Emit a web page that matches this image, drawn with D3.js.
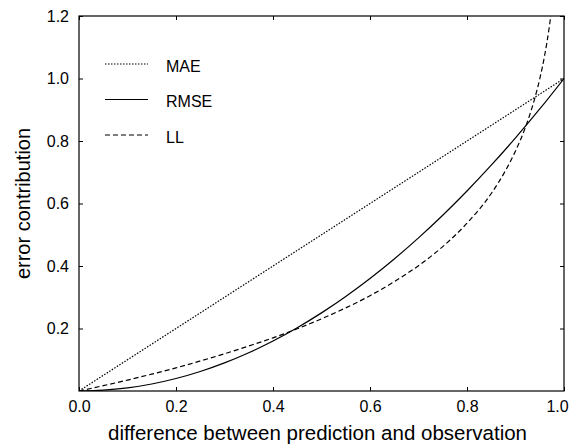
<!DOCTYPE html>
<html>

<head>
    <meta charset="UTF-8">
    <style>
        body { margin: 0; background: #fff; }
        text { font-family: "Liberation Sans", Arial, sans-serif; fill: #000; }
    </style>
</head>

<body>
    <svg id="chart"></svg>
    <script src="https://d3js.org/d3.v7.min.js"></script>
    <script>

        // values
        let xTicks = [0, 0.2, 0.4, 0.6, 0.8, 1.0];
        let yTicks = [0.2, 0.4, 0.6, 0.8, 1.0, 1.2];

        let maeX = [0, 1];
        let maeY = [0, 1];

        let rmseX = [0, 0.05, 0.1, 0.15, 0.2, 0.25, 0.3, 0.35, 0.4, 0.45, 0.5, 0.55, 0.6, 0.65, 0.7, 0.75, 0.8, 0.85, 0.9, 0.95, 1.0];
        let rmseY = [0, 0.0025, 0.01, 0.0225, 0.04, 0.0625, 0.09, 0.1225, 0.16, 0.2025, 0.25, 0.3025, 0.36, 0.4225, 0.49, 0.5625, 0.64, 0.7225, 0.81, 0.9025, 1.0];

        let llX = [0, 0.05, 0.1, 0.15, 0.2, 0.25, 0.3, 0.35, 0.4, 0.45, 0.5, 0.55, 0.6, 0.65, 0.7, 0.75, 0.8, 0.85, 0.88, 0.9, 0.92, 0.94, 0.95, 0.96, 0.97, 0.973];
        let llY = [0, 0.017, 0.035, 0.054, 0.074, 0.096, 0.119, 0.144, 0.170, 0.199, 0.231, 0.266, 0.305, 0.350, 0.401, 0.462, 0.537, 0.632, 0.707, 0.768, 0.842, 0.938, 0.999, 1.073, 1.169, 1.204];

        let seriesNames = ["MAE", "RMSE", "LL"];

        let width = 573, height = 445;
        let margin = { left: 79, right: 9, top: 16, bottom: 54 };

        let svg = d3.select("#chart")
            .attr("width", width)
            .attr("height", height);

        let x = d3.scaleLinear().domain([0, 1]).range([margin.left, width - margin.right]);
        let y = d3.scaleLinear().domain([0, 1.2]).range([height - margin.bottom, margin.top]);

        let fmt = d3.format(".1f");

        // clip
        svg.append("clipPath").attr("id", "clip")
            .append("rect")
            .attr("x", x(0)).attr("y", y(1.2))
            .attr("width", x(1) - x(0)).attr("height", y(0) - y(1.2));

        // axes, ticks inward, mirrored
        svg.append("g")
            .attr("transform", "translate(0," + y(0) + ")")
            .call(d3.axisBottom(x).tickValues(xTicks).tickFormat(fmt).tickSizeInner(-4).tickSizeOuter(0).tickPadding(10))
            .call(g => g.selectAll("text").attr("font-size", 16).attr("font-family", "Liberation Sans"))
            .call(g => g.selectAll("text").filter(d => d === 1).attr("dx", -7));

        svg.append("g")
            .attr("transform", "translate(" + x(0) + ",0)")
            .call(d3.axisLeft(y).tickValues(yTicks).tickFormat(fmt).tickSizeInner(-4).tickSizeOuter(0).tickPadding(10))
            .call(g => g.selectAll("text").attr("font-size", 16).attr("font-family", "Liberation Sans"));

        svg.append("g")
            .attr("transform", "translate(0," + y(1.2) + ")")
            .call(d3.axisTop(x).tickValues(xTicks).tickFormat("").tickSizeInner(-4).tickSizeOuter(0));

        svg.append("g")
            .attr("transform", "translate(" + x(1) + ",0)")
            .call(d3.axisRight(y).tickValues(yTicks).tickFormat("").tickSizeInner(-4).tickSizeOuter(0));

        svg.selectAll(".domain").remove();

        svg.append("rect")
            .attr("x", x(0)).attr("y", y(1.2))
            .attr("width", x(1) - x(0)).attr("height", y(0) - y(1.2))
            .attr("fill", "none").attr("stroke", "#000").attr("stroke-width", 1.2);

        // lines
        let line = d3.line().x(d => x(d[0])).y(d => y(d[1])).curve(d3.curveMonotoneX);

        let series = [
            { name: seriesNames[0], pts: d3.zip(maeX, maeY), dash: "1.5,1.5" },
            { name: seriesNames[1], pts: d3.zip(rmseX, rmseY), dash: null },
            { name: seriesNames[2], pts: d3.zip(llX, llY), dash: "5,3" }
        ];

        svg.append("g")
            .attr("clip-path", "url(#clip)")
            .selectAll("path")
            .data(series)
            .enter()
            .append("path")
            .attr("d", d => line(d.pts))
            .attr("fill", "none")
            .attr("stroke", "#000")
            .attr("stroke-width", 1.2)
            .attr("stroke-dasharray", d => d.dash);

        // legend
        let legend = svg.append("g")
            .selectAll("g")
            .data(series)
            .enter()
            .append("g")
            .attr("transform", (d, i) => "translate(105," + (64 + i * 35.5) + ")");

        legend.append("line")
            .attr("x1", 0).attr("x2", 43)
            .attr("stroke", "#000")
            .attr("stroke-width", 1.2)
            .attr("stroke-dasharray", d => d.dash);

        legend.append("text")
            .attr("x", 61).attr("y", 7.5)
            .attr("font-size", 16)
            .text(d => d.name);

        // axis titles
        svg.append("text")
            .attr("x", (x(0) + x(1)) / 2 - 4)
            .attr("y", 440)
            .attr("text-anchor", "middle")
            .attr("font-size", 20.5)
            .text("difference between prediction and observation");

        svg.append("text")
            .attr("transform", "translate(30," + ((y(0) + y(1.2)) / 2) + ") rotate(-90)")
            .attr("text-anchor", "middle")
            .attr("font-size", 20)
            .text("error contribution");

    </script>
</body>

</html>
